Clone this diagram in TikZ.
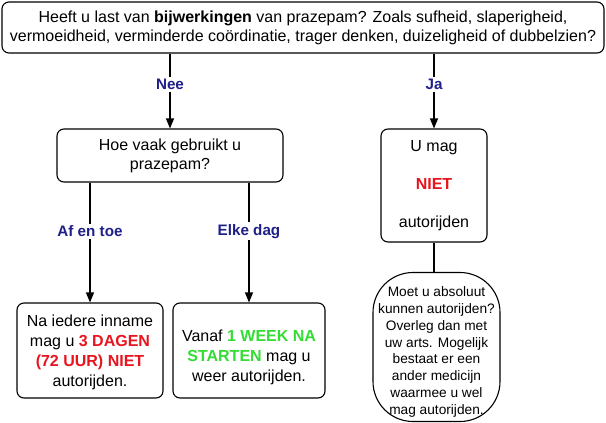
\documentclass[tikz,border=0pt]{standalone}
\usepackage{fontspec}
\setmainfont{Liberation Sans}
\usetikzlibrary{arrows.meta}
\definecolor{navy}{HTML}{1F1F8A}
\definecolor{myred}{HTML}{E8141E}
\definecolor{mygreen}{HTML}{33DD33}
\begin{document}
\begin{tikzpicture}[x=1pt,y=-1pt,
  box/.style={draw,line width=1.1pt,rounded corners=7pt,fill=white,align=center,inner sep=0pt,font=\fontsize{16}{19}\selectfont},
  txt/.style={align=center,inner sep=0pt,font=\fontsize{16}{20}\selectfont},
  small/.style={align=center,inner sep=0pt,font=\fontsize{13.7}{16.8}\selectfont},
  arr/.style={line width=1.1pt,-{Triangle[length=10pt,width=8pt]}},
  lbl/.style={fill=white,text=navy,font=\fontsize{15.2}{18}\selectfont\bfseries,inner sep=2pt}]
\useasboundingbox (0,0) rectangle (606,423);
\node[box,minimum width=602pt,minimum height=51pt] (top) at (303,27.5)
  {Heeft u last van \textbf{bijwerkingen} van prazepam? Zoals sufheid, slaperigheid,\\vermoeidheid, verminderde coördinatie, trager denken, duizeligheid of dubbelzien?};
\node[box,minimum width=226pt,minimum height=53pt] (hoe) at (170,155.5)
  {Hoe vaak gebruikt u\\prazepam?};
\node[box,minimum width=106pt,minimum height=113pt] (umag) at (434,185.5)
  {U mag\\[19pt]\textcolor{myred}{\textbf{NIET}}\\[19pt]autorijden};
\node[box,minimum width=146pt,minimum height=95pt] (box4) at (90,350.5) {};
\node[txt] (box4t) at ([yshift=-1.5pt]box4.center)
  {Na iedere inname\\mag u \textcolor{myred}{\textbf{3 DAGEN}}\\\textcolor{myred}{\textbf{(72 UUR) NIET}}\\autorijden.};
\node[box,minimum width=152pt,minimum height=95pt] (box5) at (249,350.5) {};
\node[txt] (box5t) at ([yshift=-7pt]box5.center)
  {Vanaf \textcolor{mygreen}{\textbf{1 WEEK NA}}\\\textcolor{mygreen}{\textbf{STARTEN}} mag u\\weer autorijden.};
\node[draw,line width=1.1pt,rounded corners=40pt,fill=white,minimum width=127pt,minimum height=149pt,inner sep=0pt] (bottom) at (436.5,347) {};
\node[small] (bottomt) at ([yshift=-5pt]bottom.center)
  {Moet u absoluut\\kunnen autorijden?\\Overleg dan met\\uw arts. Mogelijk\\bestaat er een\\ander medicijn\\waarmee u wel\\mag autorijden.};
\draw[arr] (hoe.north |- top.south) -- node[lbl,pos=0.41]{Nee} (hoe.north);
\draw[arr] (umag.north |- top.south) -- node[lbl,pos=0.41]{Ja} (umag.north);
\draw[arr] (box4.north |- hoe.south) -- node[lbl,pos=0.405]{Af en toe} (box4.north);
\draw[arr] (box5.north |- hoe.south) -- node[lbl,pos=0.405]{Elke dag} (box5.north);
\draw[line width=1.1pt] (umag.south) -- (umag.south |- bottom.north);
\end{tikzpicture}
\end{document}
